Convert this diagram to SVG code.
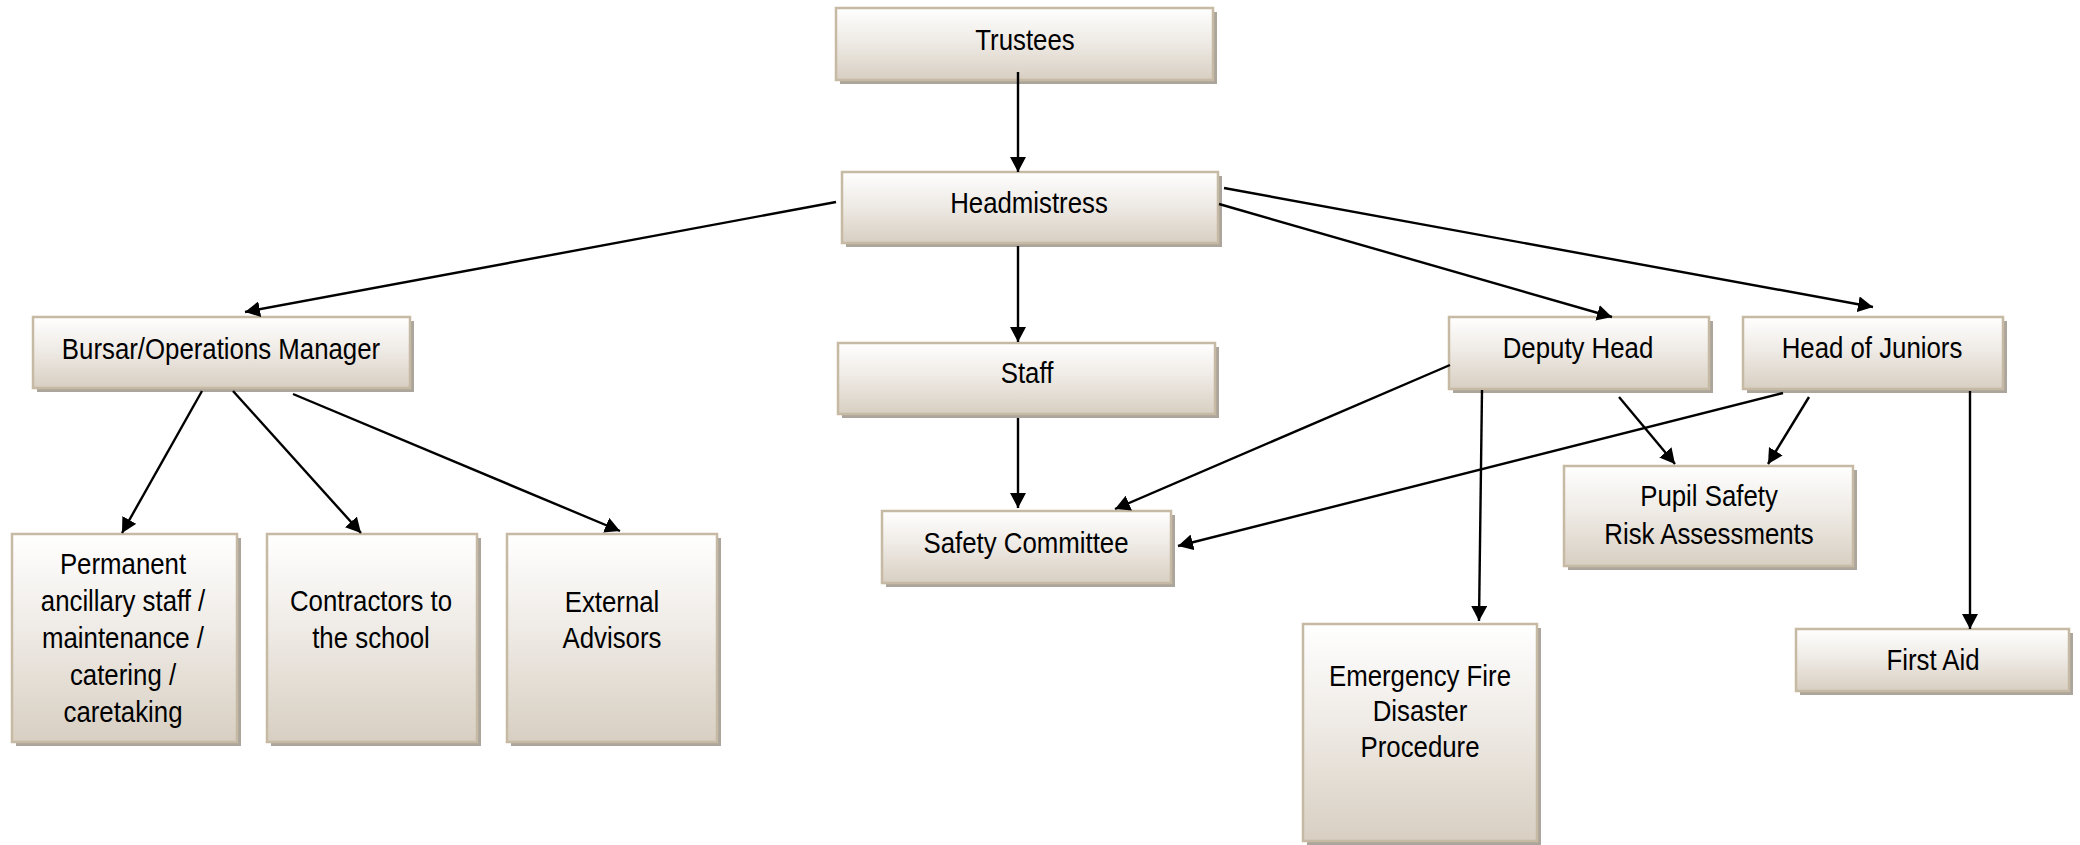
<svg xmlns="http://www.w3.org/2000/svg" width="2080" height="845" viewBox="0 0 2080 845">
<style>
.box{fill:url(#g);stroke:#c7baa4;stroke-width:2.5}
.sh{fill:#aba59b}
.t{font-family:"Liberation Sans",Arial,sans-serif;font-size:29px;fill:#000;text-anchor:middle}
.c{stroke:#000;stroke-width:2.4;fill:none;marker-end:url(#ah)}
</style>
<defs>
<linearGradient id="g" x1="0" y1="0" x2="0" y2="1">
<stop offset="0" stop-color="#ffffff"/>
<stop offset="0.45" stop-color="#efebe6"/>
<stop offset="1" stop-color="#d8cfc2"/>
</linearGradient>
<marker id="ah" markerUnits="userSpaceOnUse" markerWidth="16" markerHeight="16" refX="15" refY="8" orient="auto" viewBox="0 0 16 16">
<path d="M0,0 L15,8 L0,16 z" fill="#000"/>
</marker>
</defs>
<rect width="2080" height="845" fill="#fff"/>
<g id="trustees">
<rect class="sh" x="840" y="12" width="377" height="72"/>
<rect class="box" x="836" y="8" width="377" height="72"/>
<text class="t" transform="matrix(0.89 0 0 1 1025 0)" x="0" y="50">Trustees</text>
</g>
<g id="headmistress">
<rect class="sh" x="846" y="176" width="376" height="71"/>
<rect class="box" x="842" y="172" width="376" height="71"/>
<text class="t" transform="matrix(0.89 0 0 1 1029 0)" x="0" y="213">Headmistress</text>
</g>
<g id="bursar">
<rect class="sh" x="37" y="321" width="377" height="71"/>
<rect class="box" x="33" y="317" width="377" height="71"/>
<text class="t" transform="matrix(0.89 0 0 1 221 0)" x="0" y="359">Bursar/Operations Manager</text>
</g>
<g id="staff">
<rect class="sh" x="842" y="347" width="377" height="71"/>
<rect class="box" x="838" y="343" width="377" height="71"/>
<text class="t" transform="matrix(0.89 0 0 1 1027 0)" x="0" y="383">Staff</text>
</g>
<g id="safety-committee">
<rect class="sh" x="886" y="515" width="289" height="72"/>
<rect class="box" x="882" y="511" width="289" height="72"/>
<text class="t" transform="matrix(0.89 0 0 1 1026 0)" x="0" y="553">Safety Committee</text>
</g>
<g id="deputy-head">
<rect class="sh" x="1453" y="321" width="260" height="72"/>
<rect class="box" x="1449" y="317" width="260" height="72"/>
<text class="t" transform="matrix(0.89 0 0 1 1578 0)" x="0" y="358">Deputy Head</text>
</g>
<g id="head-of-juniors">
<rect class="sh" x="1747" y="321" width="260" height="72"/>
<rect class="box" x="1743" y="317" width="260" height="72"/>
<text class="t" transform="matrix(0.89 0 0 1 1872 0)" x="0" y="358">Head of Juniors</text>
</g>
<g id="pupil-safety">
<rect class="sh" x="1568" y="470" width="289" height="100"/>
<rect class="box" x="1564" y="466" width="289" height="100"/>
<text class="t" transform="matrix(0.89 0 0 1 1709 0)" x="0" y="506">Pupil Safety</text>
<text class="t" transform="matrix(0.89 0 0 1 1709 0)" x="0" y="544">Risk Assessments</text>
</g>
<g id="permanent">
<rect class="sh" x="16" y="538" width="225" height="208"/>
<rect class="box" x="12" y="534" width="225" height="208"/>
<text class="t" transform="matrix(0.89 0 0 1 123 0)" x="0" y="574">Permanent</text>
<text class="t" transform="matrix(0.89 0 0 1 123 0)" x="0" y="611">ancillary staff /</text>
<text class="t" transform="matrix(0.89 0 0 1 123 0)" x="0" y="648">maintenance /</text>
<text class="t" transform="matrix(0.89 0 0 1 123 0)" x="0" y="685">catering /</text>
<text class="t" transform="matrix(0.89 0 0 1 123 0)" x="0" y="722">caretaking</text>
</g>
<g id="contractors">
<rect class="sh" x="271" y="538" width="210" height="208"/>
<rect class="box" x="267" y="534" width="210" height="208"/>
<text class="t" transform="matrix(0.89 0 0 1 371 0)" x="0" y="611">Contractors to</text>
<text class="t" transform="matrix(0.89 0 0 1 371 0)" x="0" y="648">the school</text>
</g>
<g id="external-advisors">
<rect class="sh" x="511" y="538" width="210" height="208"/>
<rect class="box" x="507" y="534" width="210" height="208"/>
<text class="t" transform="matrix(0.89 0 0 1 612 0)" x="0" y="612">External</text>
<text class="t" transform="matrix(0.89 0 0 1 612 0)" x="0" y="648">Advisors</text>
</g>
<g id="emergency">
<rect class="sh" x="1307" y="628" width="234" height="217"/>
<rect class="box" x="1303" y="624" width="234" height="217"/>
<text class="t" transform="matrix(0.89 0 0 1 1420 0)" x="0" y="686">Emergency Fire</text>
<text class="t" transform="matrix(0.89 0 0 1 1420 0)" x="0" y="721">Disaster</text>
<text class="t" transform="matrix(0.89 0 0 1 1420 0)" x="0" y="757">Procedure</text>
</g>
<g id="first-aid">
<rect class="sh" x="1800" y="633" width="273" height="62"/>
<rect class="box" x="1796" y="629" width="273" height="62"/>
<text class="t" transform="matrix(0.89 0 0 1 1933 0)" x="0" y="670">First Aid</text>
</g>
<g id="connectors">
<line class="c" x1="1018" y1="72" x2="1018" y2="172"/>
<line class="c" x1="836" y1="202" x2="245" y2="312"/>
<line class="c" x1="1018" y1="246" x2="1018" y2="342"/>
<line class="c" x1="1219" y1="204" x2="1612" y2="317"/>
<line class="c" x1="1224" y1="188" x2="1873" y2="307"/>
<line class="c" x1="202" y1="391" x2="122" y2="533"/>
<line class="c" x1="233" y1="391" x2="361" y2="533"/>
<line class="c" x1="293" y1="394" x2="620" y2="531"/>
<line class="c" x1="1018" y1="418" x2="1018" y2="508"/>
<line class="c" x1="1450" y1="365" x2="1115" y2="509"/>
<line class="c" x1="1783" y1="393" x2="1178" y2="546"/>
<line class="c" x1="1619" y1="397" x2="1675" y2="464"/>
<line class="c" x1="1809" y1="397" x2="1768" y2="464"/>
<line class="c" x1="1482" y1="390" x2="1479" y2="621"/>
<line class="c" x1="1970" y1="391" x2="1970" y2="629"/>
</g>
</svg>
